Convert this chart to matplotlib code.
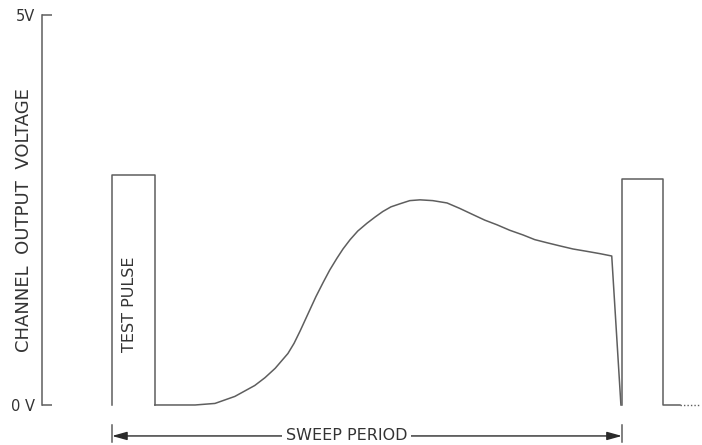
import matplotlib
matplotlib.use("Agg")
import matplotlib.pyplot as plt

# time axis in % of one sweep period, voltage in volts
pulse1_t = [0, 0, 8.4, 8.4]
pulse1_v = [0, 2.95, 2.95, 0]

sweep_t = [8.4, 16.3, 20.2, 24.1, 28.0, 30.0, 32.0, 34.5, 35.7, 36.9, 38.8, 40.0,
           41.4, 42.7, 44.1, 45.3, 46.7, 48.2, 50.0, 51.6, 53.1, 54.7, 56.5, 58.4,
           60.4, 62.9, 65.7, 68.2, 70.8, 73.1, 75.5, 78.0, 80.6, 82.9, 85.3, 87.8,
           90.4, 93.1, 95.7, 98.0, 99.8]
sweep_v = [0, 0, 0.02, 0.11, 0.25, 0.35, 0.47, 0.66, 0.79, 0.95, 1.22, 1.39,
           1.57, 1.73, 1.88, 2.00, 2.12, 2.23, 2.33, 2.41, 2.48, 2.54, 2.58, 2.62,
           2.63, 2.62, 2.59, 2.52, 2.44, 2.37, 2.31, 2.24, 2.18, 2.12, 2.08, 2.04,
           2.00, 1.97, 1.94, 1.91, 0]

pulse2_t = [100, 100, 108.0, 108.0, 111.4]
pulse2_v = [0, 2.90, 2.90, 0, 0]
tail_t = [111.4, 115.3]
tail_v = [0, 0]

ytick_vals = [0, 5]
ytick_labels = ["0 V", "5V"]

line_col = "#5e5e5e"
text_col = "#333333"

fig = plt.figure(figsize=(7.02, 4.45), dpi=100)
ax = fig.add_axes([0, 0, 1, 1])
ax.set_xlim(-21.96, 115.7)
ax.set_ylim(-0.513, 5.192)

lw = 1.1
ax.plot(pulse1_t, pulse1_v, color=line_col, lw=lw, solid_joinstyle="round")
ax.plot(sweep_t, sweep_v, color=line_col, lw=lw, solid_joinstyle="round")
ax.plot(pulse2_t, pulse2_v, color=line_col, lw=lw, solid_joinstyle="round")
ax.plot(tail_t, tail_v, color=line_col, lw=1.0, ls=(0, (1, 1.5)))

# left axis as a bracket from 0 V to 5 V
for side in ["top", "right", "bottom"]:
    ax.spines[side].set_visible(False)
ax.spines["left"].set_position(("data", -13.7))
ax.spines["left"].set_bounds(0, 5)
ax.spines["left"].set_color(line_col)
ax.spines["left"].set_linewidth(1.1)
ax.set_xticks([])
ax.set_yticks(ytick_vals)
ax.set_yticklabels(ytick_labels)
ax.tick_params(axis="y", direction="in", length=7.5, width=1.1, color=line_col,
               labelsize=10.5, labelcolor=text_col, pad=5)

ax.text(0.034, 0.506, "CHANNEL  OUTPUT  VOLTAGE", transform=ax.transAxes,
        rotation=90, ha="center", va="center", fontsize=13, color=text_col)
ax.text(3.5, 1.29, "TEST PULSE", rotation=90, ha="center", va="center",
        fontsize=11.5, color=text_col)

# sweep period dimension arrow
ya = -0.397
ax.plot([0, 0], [-0.256, -0.474], color=line_col, lw=1.1)
ax.plot([100, 100], [-0.256, -0.474], color=line_col, lw=1.1)
ax.annotate("", xy=(0, ya), xytext=(50, ya),
            arrowprops=dict(arrowstyle="-|>,head_length=0.9,head_width=0.25",
                            color="#2a2a2a", lw=1.0, shrinkA=0, shrinkB=0))
ax.annotate("", xy=(100, ya), xytext=(50, ya),
            arrowprops=dict(arrowstyle="-|>,head_length=0.9,head_width=0.25",
                            color="#2a2a2a", lw=1.0, shrinkA=0, shrinkB=0))
ax.text(46.0, ya, "SWEEP PERIOD", ha="center", va="center", fontsize=11.5,
        color=text_col, bbox=dict(facecolor="white", edgecolor="none", pad=2.5))

fig.savefig("out.png", dpi=100, facecolor="white")
